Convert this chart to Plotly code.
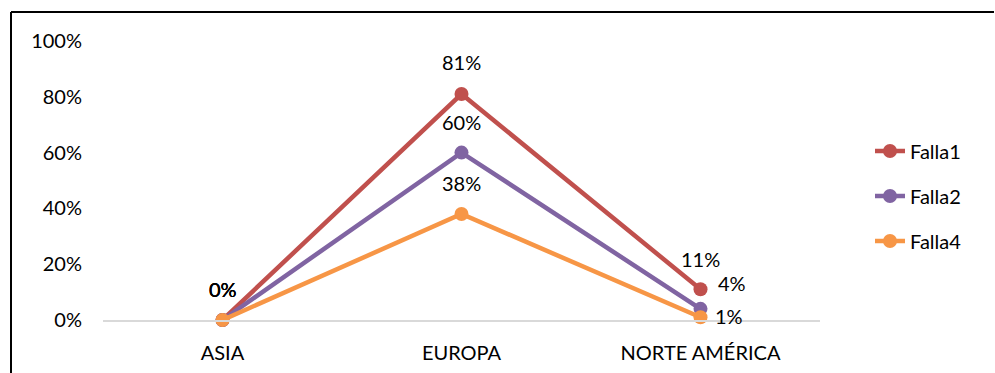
import plotly.graph_objects as go

categories = ["ASIA", "EUROPA", "NORTE AMÉRICA"]
series_names = ["Falla1", "Falla2", "Falla4"]
falla1 = [0.00, 0.81, 0.11]
falla2 = [0.00, 0.60, 0.04]
falla4 = [0.00, 0.38, 0.01]
y_ticks = [0, 0.2, 0.4, 0.6, 0.8, 1.0]
y_tick_labels = ["0%", "20%", "40%", "60%", "80%", "100%"]

colors = ["#C0504D", "#8064A2", "#F79646"]
# label offsets (xshift, yshift) per series per point
label_offsets = [
    [(0, 31), (0, 32), (0, 30)],
    [(0, 31), (0, 31), (31, 26)],
    [(0, 31), (0, 31), (28, 1)],
]

FONT = "Lato"
fig = go.Figure()
annotations = []
for name, vals, col, offs in zip(series_names, [falla1, falla2, falla4], colors, label_offsets):
    fig.add_trace(go.Scatter(
        x=categories, y=vals, name=name, mode="lines+markers",
        line=dict(color=col, width=4.5),
        marker=dict(color=col, size=14),
        cliponaxis=False, legendgroup=name,
    ))
    for c, v, (dx, dy) in zip(categories, vals, offs):
        annotations.append(dict(
            x=c, y=v, xref="x", yref="y", text=f"{round(v*100):.0f}%",
            showarrow=False, xshift=dx, yshift=dy,
            font=dict(family=FONT, size=20, color="#000000"),
        ))

L, R, T, B = 103, 175, 41, 53
W, H = 995, 373
pw, ph = W - L - R, H - T - B

def px(xp):
    return (xp - L) / pw

def py(yp):
    return (H - B - yp) / ph

shapes = [
    dict(type="line", xref="paper", yref="paper", x0=px(11), x1=px(11), y0=py(373), y1=py(12),
         line=dict(color="#000000", width=2)),
    dict(type="line", xref="paper", yref="paper", x0=px(11), x1=px(994), y0=py(12), y1=py(12),
         line=dict(color="#000000", width=2)),
]

fig.update_layout(
    width=W, height=H,
    margin=dict(l=L, r=R, t=T, b=B, autoexpand=False),
    paper_bgcolor="white", plot_bgcolor="white",
    font=dict(family=FONT, size=20, color="#000000"),
    showlegend=True,
    legend=dict(x=px(870), y=py(196), xanchor="left", yanchor="middle",
                font=dict(family=FONT, size=20, color="#000000"),
                tracegroupgap=16, itemwidth=30, bgcolor="rgba(0,0,0,0)"),
    annotations=annotations,
    shapes=shapes,
    xaxis=dict(range=[-0.5, 2.5], showgrid=False, zeroline=False, showline=True,
               linecolor="#D9D9D9", linewidth=1.5, ticks="", ticklabelstandoff=14,
               automargin=False,
               tickfont=dict(family=FONT, size=20, color="#000000")),
    yaxis=dict(range=[0, 1], tickvals=y_ticks, ticktext=y_tick_labels, showgrid=False,
               zeroline=False, showline=False, ticks="", ticklabelstandoff=20,
               automargin=False,
               tickfont=dict(family=FONT, size=20, color="#000000")),
)

fig.write_html("out.html")
